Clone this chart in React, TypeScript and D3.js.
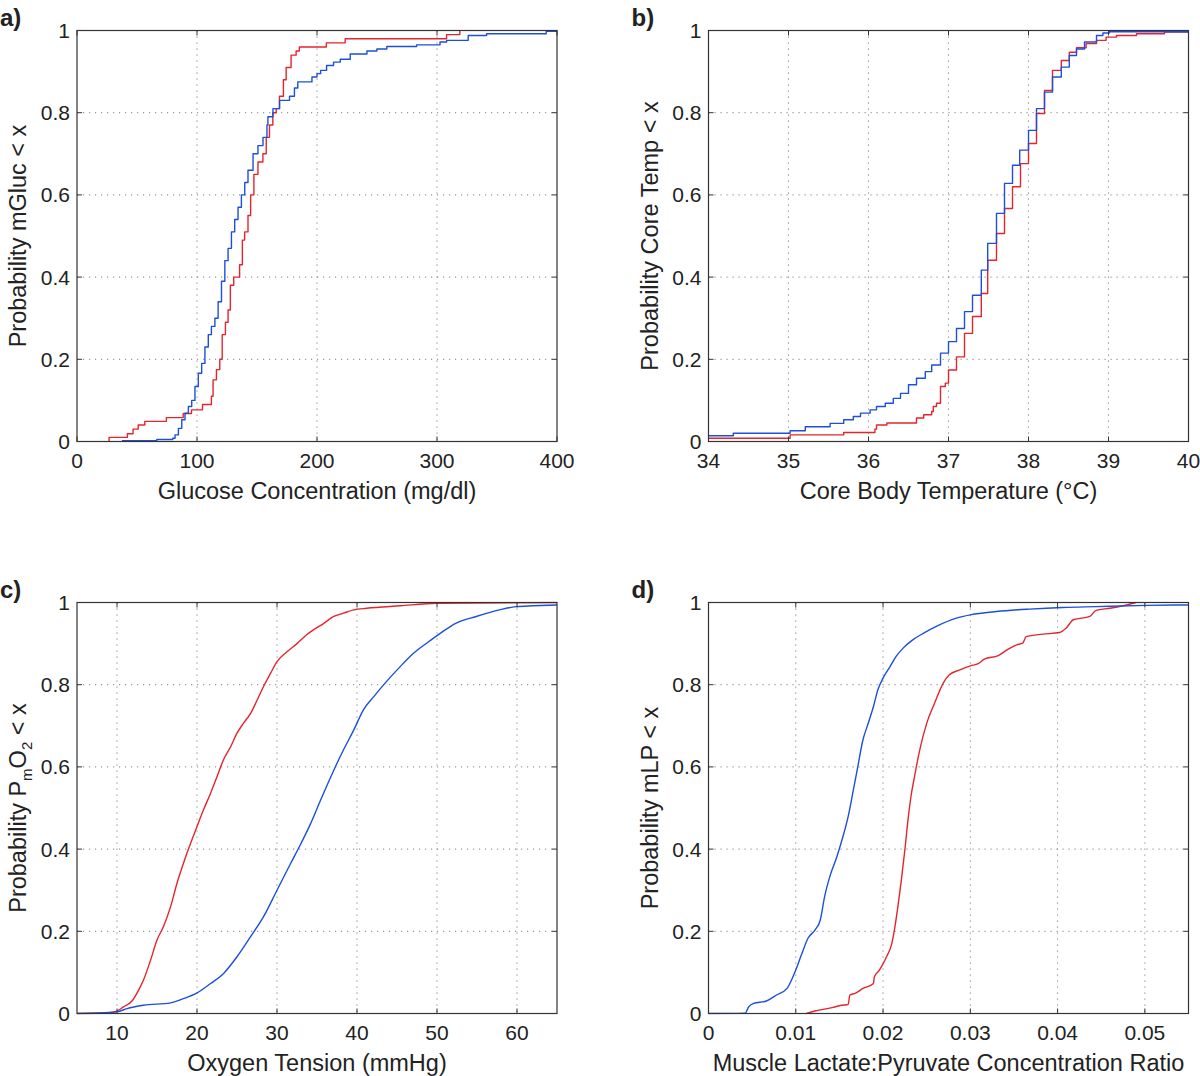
import React from "react";
import * as d3 from "d3";

// ---------- DATA ----------
const yTicks = [0, 0.2, 0.4, 0.6, 0.8, 1];
const yTickLabels = ["0", "0.2", "0.4", "0.6", "0.8", "1"];

// Panel a: glucose
const aTicks = [0, 100, 200, 300, 400];
const aTickLabels = ["0", "100", "200", "300", "400"];
const aRedX = [26.7, 26.7, 42, 46.7, 51, 56.5, 74.5, 88.5, 95.4, 104.6, 112, 113.4, 116.2, 119, 121, 123.7, 125.9, 127.8, 130.6, 135.5, 137.8, 139.7, 142.5, 144.7, 147.4, 150.8, 154.9, 157.7, 160.4, 163.2, 166, 168.7, 172, 174.3, 178.4, 182.6, 185.3, 207.8, 223.5, 308, 319, 319];
const aRedY = [0, 0.01, 0.019, 0.03, 0.04, 0.049, 0.058, 0.068, 0.077, 0.09, 0.11, 0.15, 0.175, 0.2, 0.26, 0.29, 0.32, 0.38, 0.4, 0.43, 0.49, 0.51, 0.55, 0.6, 0.65, 0.68, 0.7, 0.74, 0.77, 0.8, 0.81, 0.84, 0.88, 0.91, 0.94, 0.95, 0.96, 0.97, 0.98, 0.99, 1.0, 1.0];
const aBlueX = [37.4, 66.5, 79.8, 81.7, 84.5, 87.3, 90, 92.8, 95.6, 98.3, 101.1, 103.9, 106.6, 109.4, 112, 114.9, 117.6, 120.4, 123.2, 125.9, 128.7, 131.4, 134.2, 137, 139.8, 142.5, 146.7, 150.8, 155, 158.3, 159.1, 163.3, 168.8, 177.1, 181.2, 184, 195.8, 200, 203, 208, 213.8, 219.4, 227.7, 241.6, 249.9, 258.2, 283, 302.5, 308, 326, 341.3, 391, 400];
const aBlueY = [0.002, 0.005, 0.008, 0.016, 0.032, 0.053, 0.069, 0.085, 0.1, 0.134, 0.166, 0.19, 0.23, 0.26, 0.28, 0.3, 0.34, 0.39, 0.44, 0.47, 0.51, 0.54, 0.57, 0.6, 0.63, 0.66, 0.7, 0.72, 0.74, 0.77, 0.79, 0.81, 0.83, 0.84, 0.86, 0.875, 0.887, 0.895, 0.903, 0.915, 0.923, 0.93, 0.943, 0.95, 0.955, 0.961, 0.965, 0.972, 0.976, 0.988, 0.992, 0.998, 0.998];

// Panel b: core temperature
const bTicks = [34, 35, 36, 37, 38, 39, 40];
const bTickLabels = ["34", "35", "36", "37", "38", "39", "40"];
const bBlueX = [34, 34.31, 35.02, 35.21, 35.52, 35.69, 35.81, 35.9, 36.02, 36.1, 36.21, 36.31, 36.4, 36.5, 36.6, 36.71, 36.79, 36.9, 37.0, 37.1, 37.2, 37.3, 37.41, 37.49, 37.6, 37.7, 37.8, 37.89, 38.0, 38.1, 38.2, 38.3, 38.41, 38.51, 38.6, 38.7, 38.85, 38.93, 39.01, 40];
const bBlueY = [0.014, 0.02, 0.026, 0.036, 0.044, 0.053, 0.061, 0.069, 0.077, 0.085, 0.093, 0.105, 0.117, 0.138, 0.154, 0.17, 0.186, 0.215, 0.243, 0.275, 0.316, 0.356, 0.417, 0.482, 0.555, 0.628, 0.672, 0.709, 0.757, 0.81, 0.85, 0.887, 0.911, 0.939, 0.955, 0.972, 0.988, 0.994, 0.997, 1.0];
const bRedX = [34, 35.02, 35.69, 36.08, 36.1, 36.23, 36.6, 36.69, 36.79, 36.81, 36.85, 36.9, 36.96, 37.0, 37.1, 37.2, 37.3, 37.41, 37.49, 37.6, 37.7, 37.8, 37.9, 38.0, 38.1, 38.2, 38.3, 38.41, 38.51, 38.6, 38.72, 38.85, 38.97, 39.1, 39.35, 39.7, 40];
const bRedY = [0.008, 0.016, 0.022, 0.03, 0.04, 0.045, 0.057, 0.065, 0.073, 0.085, 0.093, 0.134, 0.142, 0.174, 0.206, 0.263, 0.304, 0.36, 0.441, 0.506, 0.567, 0.62, 0.676, 0.725, 0.798, 0.854, 0.903, 0.927, 0.947, 0.958, 0.968, 0.976, 0.984, 0.988, 0.992, 0.996, 1.0];

// Panel c: oxygen tension
const cTicks = [10, 20, 30, 40, 50, 60];
const cTickLabels = ["10", "20", "30", "40", "50", "60"];
const cRedX = [5, 9, 10, 10.8, 11.9, 12.7, 13.3, 14.2, 15, 15.8, 16.7, 17.5, 18.3, 19.2, 20, 20.8, 21.7, 22.5, 23.3, 24.2, 25, 25.8, 26.7, 27.5, 28.3, 29.2, 30, 31.25, 32.5, 33.75, 35.9, 37.1, 38.3, 39.6, 41.2, 45.4, 50, 65];
const cRedY = [0, 0.002, 0.006, 0.016, 0.031, 0.057, 0.081, 0.13, 0.179, 0.211, 0.26, 0.317, 0.365, 0.414, 0.455, 0.495, 0.536, 0.576, 0.617, 0.649, 0.682, 0.706, 0.73, 0.762, 0.795, 0.828, 0.856, 0.88, 0.9, 0.922, 0.95, 0.966, 0.974, 0.982, 0.986, 0.992, 0.998, 1.0];
const cBlueX = [5, 10, 11.25, 13.3, 16.7, 18.3, 20, 21.7, 23.3, 25, 26.7, 28.3, 30, 31.7, 32.9, 34.2, 35.4, 37.1, 38.3, 39.6, 40.8, 42.1, 43.7, 45.4, 47.1, 48.7, 50.4, 52.4, 54.9, 57.8, 59.9, 62, 65];
const cBlueY = [0, 0.004, 0.012, 0.02, 0.026, 0.036, 0.05, 0.073, 0.097, 0.138, 0.187, 0.235, 0.3, 0.365, 0.41, 0.462, 0.517, 0.592, 0.641, 0.69, 0.739, 0.771, 0.808, 0.844, 0.877, 0.901, 0.925, 0.95, 0.966, 0.982, 0.99, 0.992, 0.994];

// Panel d: lactate:pyruvate ratio
const dTicks = [0, 0.01, 0.02, 0.03, 0.04, 0.05];
const dTickLabels = ["0", "0.01", "0.02", "0.03", "0.04", "0.05"];
const dBlueX = [0, 0.0042, 0.0046, 0.0051, 0.0067, 0.0078, 0.009, 0.0095, 0.01, 0.0107, 0.0114, 0.0122, 0.0128, 0.0133, 0.0139, 0.0147, 0.0154, 0.016, 0.0166, 0.0171, 0.0177, 0.0183, 0.0189, 0.0194, 0.02, 0.0208, 0.0215, 0.0223, 0.0234, 0.0246, 0.0261, 0.0284, 0.03, 0.033, 0.0368, 0.0406, 0.0444, 0.0502, 0.055];
const dBlueY = [0, 0.001, 0.016, 0.024, 0.031, 0.045, 0.061, 0.081, 0.106, 0.146, 0.183, 0.203, 0.227, 0.284, 0.333, 0.381, 0.43, 0.479, 0.544, 0.6, 0.666, 0.706, 0.747, 0.787, 0.816, 0.844, 0.869, 0.889, 0.909, 0.925, 0.942, 0.962, 0.97, 0.978, 0.984, 0.988, 0.99, 0.993, 0.994];
const dRedX = [0.0112, 0.0122, 0.0143, 0.0152, 0.016, 0.0162, 0.0168, 0.0177, 0.0189, 0.019, 0.0196, 0.0204, 0.021, 0.0213, 0.0217, 0.0221, 0.0225, 0.0229, 0.0232, 0.0236, 0.0242, 0.025, 0.0259, 0.0269, 0.0276, 0.0288, 0.03, 0.0309, 0.0316, 0.0332, 0.0343, 0.0353, 0.036, 0.0364, 0.0383, 0.0402, 0.041, 0.0418, 0.0437, 0.0444, 0.046, 0.0475, 0.049];
const dRedY = [0, 0.006, 0.015, 0.02, 0.022, 0.045, 0.049, 0.061, 0.073, 0.089, 0.106, 0.138, 0.17, 0.203, 0.26, 0.325, 0.398, 0.479, 0.528, 0.576, 0.641, 0.706, 0.755, 0.804, 0.824, 0.836, 0.846, 0.851, 0.862, 0.871, 0.886, 0.897, 0.901, 0.917, 0.923, 0.927, 0.938, 0.958, 0.966, 0.981, 0.986, 0.992, 1.0];

// ---------- STYLE ----------
const RED = "#e4252b";
const BLUE = "#1c4fdc";
const FONT = "'Liberation Sans', Arial, Helvetica, sans-serif";
const TICK_FS = 21;
const TITLE_FS = 23.5;

type Series = { xs: number[]; ys: number[]; color: string };

type PanelProps = {
  id: string;
  label: string;
  left: number;
  top: number;
  width: number;
  height: number;
  domain: [number, number];
  ticks: number[];
  tickLabels: string[];
  xTitle: string;
  yTitle: React.ReactNode;
  series: Series[];
  step: boolean;
};

function Panel(p: PanelProps) {
  const x = d3.scaleLinear().domain(p.domain).range([p.left, p.left + p.width]);
  const y = d3.scaleLinear().domain([0, 1]).range([p.top + p.height, p.top]);
  const line = d3
    .line<[number, number]>()
    .x((d) => x(d[0]))
    .y((d) => y(d[1]))
    .curve(p.step ? d3.curveStepAfter : d3.curveMonotoneX);
  const bottom = p.top + p.height;
  const right = p.left + p.width;
  const tl = 5;
  const clipId = "clip-" + p.id;
  const gridStyle = { stroke: "#808080", strokeWidth: 1, strokeDasharray: "1.2 4.8" };
  return (
    <g>
      <defs>
        <clipPath id={clipId}>
          <rect x={p.left} y={p.top - 1} width={p.width} height={p.height + 2} />
        </clipPath>
      </defs>
      {/* grid */}
      {p.ticks.map((t, i) =>
        x(t) > p.left + 1 && x(t) < right - 1 ? (
          <line key={"gx" + i} x1={x(t)} x2={x(t)} y1={p.top} y2={bottom} style={gridStyle} />
        ) : null
      )}
      {yTicks.map((t, i) =>
        t > 0 && t < 1 ? (
          <line key={"gy" + i} x1={p.left} x2={right} y1={y(t)} y2={y(t)} style={gridStyle} />
        ) : null
      )}
      {/* series */}
      <g clipPath={`url(#${clipId})`}>
        {p.series.map((s, i) => (
          <path
            key={"s" + i}
            d={line(s.xs.map((v, j) => [v, s.ys[j]] as [number, number])) || ""}
            fill="none"
            stroke={s.color}
            strokeWidth={1.4}
            strokeLinejoin="round"
          />
        ))}
      </g>
      {/* box */}
      <rect x={p.left} y={p.top} width={p.width} height={p.height} fill="none" stroke="#333" strokeWidth={1.2} />
      {/* ticks */}
      {p.ticks.map((t, i) => (
        <g key={"tx" + i}>
          <line x1={x(t)} x2={x(t)} y1={bottom} y2={bottom - tl} stroke="#333" />
          <line x1={x(t)} x2={x(t)} y1={p.top} y2={p.top + tl} stroke="#333" />
          <text x={x(t)} y={bottom + 26} textAnchor="middle" fontSize={TICK_FS} fontFamily={FONT} fill="#222">
            {p.tickLabels[i]}
          </text>
        </g>
      ))}
      {yTicks.map((t, i) => (
        <g key={"ty" + i}>
          <line x1={p.left} x2={p.left + tl} y1={y(t)} y2={y(t)} stroke="#333" />
          <line x1={right} x2={right - tl} y1={y(t)} y2={y(t)} stroke="#333" />
          <text x={p.left - 7} y={y(t) + 7.5} textAnchor="end" fontSize={TICK_FS} fontFamily={FONT} fill="#222">
            {yTickLabels[i]}
          </text>
        </g>
      ))}
      {/* titles */}
      <text x={(p.left + right) / 2} y={bottom + 57} textAnchor="middle" fontSize={TITLE_FS} fontFamily={FONT} fill="#222">
        {p.xTitle}
      </text>
      <text
        transform={`translate(${p.left - 51},${(p.top + bottom) / 2}) rotate(-90)`}
        textAnchor="middle"
        fontSize={TITLE_FS}
        fontFamily={FONT}
        fill="#222"
      >
        {p.yTitle}
      </text>
      <text x={p.left - 77} y={p.top - 5} fontSize={24} fontWeight="bold" fontFamily={FONT} fill="#222">
        {p.label}
      </text>
    </g>
  );
}

export default function App() {
  const W = 480;
  const H = 411;
  const L1 = 77;
  const L2 = 708.5;
  const T1 = 30.5;
  const T2 = 602.5;
  return (
    <svg width={1200} height={1076} style={{ position: "absolute", left: 0, top: 0, background: "#fff" }}>
      <rect width={1200} height={1076} fill="#fff" />
      <Panel
        id="a"
        label="a)"
        left={L1}
        top={T1}
        width={W}
        height={H}
        domain={[0, 400]}
        ticks={aTicks}
        tickLabels={aTickLabels}
        xTitle="Glucose Concentration (mg/dl)"
        yTitle="Probability mGluc < x"
        step={true}
        series={[
          { xs: aRedX, ys: aRedY, color: RED },
          { xs: aBlueX, ys: aBlueY, color: BLUE },
        ]}
      />
      <Panel
        id="b"
        label="b)"
        left={L2}
        top={T1}
        width={W}
        height={H}
        domain={[34, 40]}
        ticks={bTicks}
        tickLabels={bTickLabels}
        xTitle="Core Body Temperature (°C)"
        yTitle="Probability Core Temp < x"
        step={true}
        series={[
          { xs: bRedX, ys: bRedY, color: RED },
          { xs: bBlueX, ys: bBlueY, color: BLUE },
        ]}
      />
      <Panel
        id="c"
        label="c)"
        left={L1}
        top={T2}
        width={W}
        height={H}
        domain={[5, 65]}
        ticks={cTicks}
        tickLabels={cTickLabels}
        xTitle="Oxygen Tension (mmHg)"
        yTitle={
          <>
            <tspan>Probability P</tspan>
            <tspan fontSize={15} dy={6}>m</tspan>
            <tspan dy={-6}>O</tspan>
            <tspan fontSize={15} dy={6}>2</tspan>
            <tspan dy={-6}> &lt; x</tspan>
          </>
        }
        step={false}
        series={[
          { xs: cRedX, ys: cRedY, color: RED },
          { xs: cBlueX, ys: cBlueY, color: BLUE },
        ]}
      />
      <Panel
        id="d"
        label="d)"
        left={L2}
        top={T2}
        width={W}
        height={H}
        domain={[0, 0.055]}
        ticks={dTicks}
        tickLabels={dTickLabels}
        xTitle="Muscle Lactate:Pyruvate Concentration Ratio"
        yTitle="Probability mLP < x"
        step={false}
        series={[
          { xs: dRedX, ys: dRedY, color: RED },
          { xs: dBlueX, ys: dBlueY, color: BLUE },
        ]}
      />
    </svg>
  );
}
